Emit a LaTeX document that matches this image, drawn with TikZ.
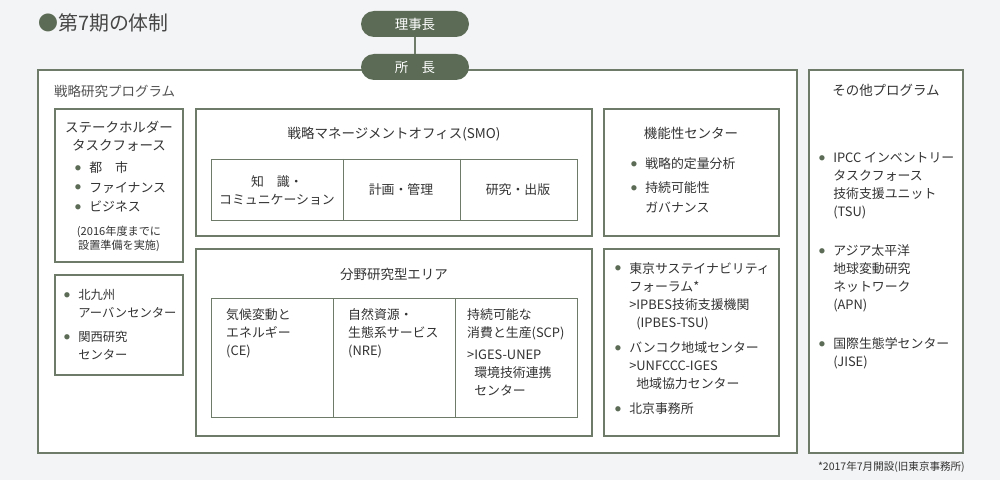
\documentclass[tikz,border=0pt]{standalone}
\usepackage{fontspec}
\setmainfont{Noto Sans CJK JP}
\definecolor{bg}{HTML}{F3F4F5}
\definecolor{gr}{HTML}{5B6B55}
\definecolor{bd}{HTML}{6E7B69}
\definecolor{tx}{HTML}{333333}
\newcommand{\bu}{\makebox[12pt][l]{\textcolor{gr}{\raisebox{1.8pt}{\fontsize{5}{5}\selectfont●}}}}
\newcommand{\bs}{\hspace*{12pt}}
\begin{document}
\begin{tikzpicture}[x=0.03cm,y=-0.03cm,
  box/.style={draw=bd,line width=0.9pt,fill=white},
  cell/.style={draw=bd,line width=0.7pt},
  pill/.style={fill=gr,text=white,rounded corners=13*0.03cm,minimum width=108*0.03cm,minimum height=26*0.03cm,font=\fontsize{11.5}{13}\selectfont},
  tt/.style={text=tx,font=\fontsize{11}{15.4}\selectfont,inner sep=0pt},
  hd/.style={tt,font=\fontsize{11.5}{15.4}\selectfont},
  lst/.style={tt,anchor=north west,align=left},
]
\useasboundingbox (0,0) rectangle (1000,480);
\fill[bg] (0,0) rectangle (1000,480);
\node[anchor=west,text=tx!90,font=\fontsize{17}{20}\selectfont,inner sep=0] (ttl) at (38,23) {\textcolor{gr}{●}第7期の体制};
% outer boxes
\draw[box] (38,70) rectangle (797,453);
\draw[box] (809,70) rectangle (963,453);
\node[pill] (rj) at (415,24) {理事長};
\node[pill] (sc) at (415,67) {所\quad 長};
\draw[bd,line width=0.9pt] (rj) -- (sc);
\node[hd,anchor=west,text=tx!85] (sp) at (54,91) {戦略研究プログラム};
\node[hd] (op) at (886,90) {その他プログラム};
% stakeholder
\draw[box] (55,109) rectangle (183,262);
\node[hd,align=center,anchor=north] (sh) at (119,121) {ステークホルダー\\タスクフォース};
\node[lst,font=\fontsize{11}{17}\selectfont] (shl) at (75,161) {\bu 都\quad 市\\\bu ファイナンス\\\bu ビジネス};
\node[tt,align=center,anchor=north,font=\fontsize{9.5}{12}\selectfont] (shn) at (119,226) {(2016年度までに\\設置準備を実施)};
% kitakyushu
\draw[box] (55,275) rectangle (183,375);
\node[lst,font=\fontsize{10.5}{15.4}\selectfont] (kk) at (64,289) {\bu 北九州\\\bs アーバンセンター\\[5pt]\bu 関西研究\\\bs センター};
% SMO
\draw[box] (196,109) rectangle (592,236);
\node[hd] (smo) at (394,134) {戦略マネージメントオフィス(SMO)};
\draw[cell] (211,159) rectangle (577,220) (343,159) -- (343,220) (460,159) -- (460,220);
\node[tt,align=center] (c1) at (277,190) {知\quad 識・\\コミュニケーション};
\node[tt] (c2) at (401,190) {計画・管理};
\node[tt] (c3) at (518,190) {研究・出版};
% field
\draw[box] (196,249) rectangle (592,436);
\node[hd] (fd) at (394,274) {分野研究型エリア};
\draw[cell] (211,298) rectangle (577,417) (333,298) -- (333,417) (455,298) -- (455,417);
\node[lst] (ce) at (226,308) {気候変動と\\エネルギー\\(CE)};
\node[lst] (nre) at (348,308) {自然資源・\\生態系サービス\\(NRE)};
\node[lst] (scp) at (467,308) {持続可能な\\消費と生産(SCP)\\[4pt]>IGES-UNEP\\\hspace*{6pt}環境技術連携\\\hspace*{6pt}センター};
% function
\draw[box] (604,109) rectangle (779,236);
\node[hd] (fc) at (691,133) {機能性センター};
\node[lst,font=\fontsize{11}{17}\selectfont] (fcl) at (631,157) {\bu 戦略的定量分析\\[4pt]\bu 持続可能性\\\bs ガバナンス};
% tokyo
\draw[box] (604,249) rectangle (779,436);
\node[lst] (tk) at (615,262) {\bu 東京サステイナビリティ\\\bs フォーラム*\\\bs >IPBES技術支援機関\\\bs\hspace*{6pt}(IPBES-TSU)\\[6pt]\bu バンコク地域センター\\\bs >UNFCCC-IGES\\\bs\hspace*{6pt}地域協力センター\\[6pt]\bu 北京事務所};
% other
\node[lst] (ot) at (819,152) {\bu IPCC インベントリー\\\bs タスクフォース\\\bs 技術支援ユニット\\\bs (TSU)\\[18pt]\bu アジア太平洋\\\bs 地球変動研究\\\bs ネットワーク\\\bs (APN)\\[18pt]\bu 国際生態学センター\\\bs (JISE)};
\node[tt,anchor=east,font=\fontsize{9}{10}\selectfont] (fn) at (965,467) {*2017年7月開設(旧東京事務所)};
\end{tikzpicture}
\end{document}
